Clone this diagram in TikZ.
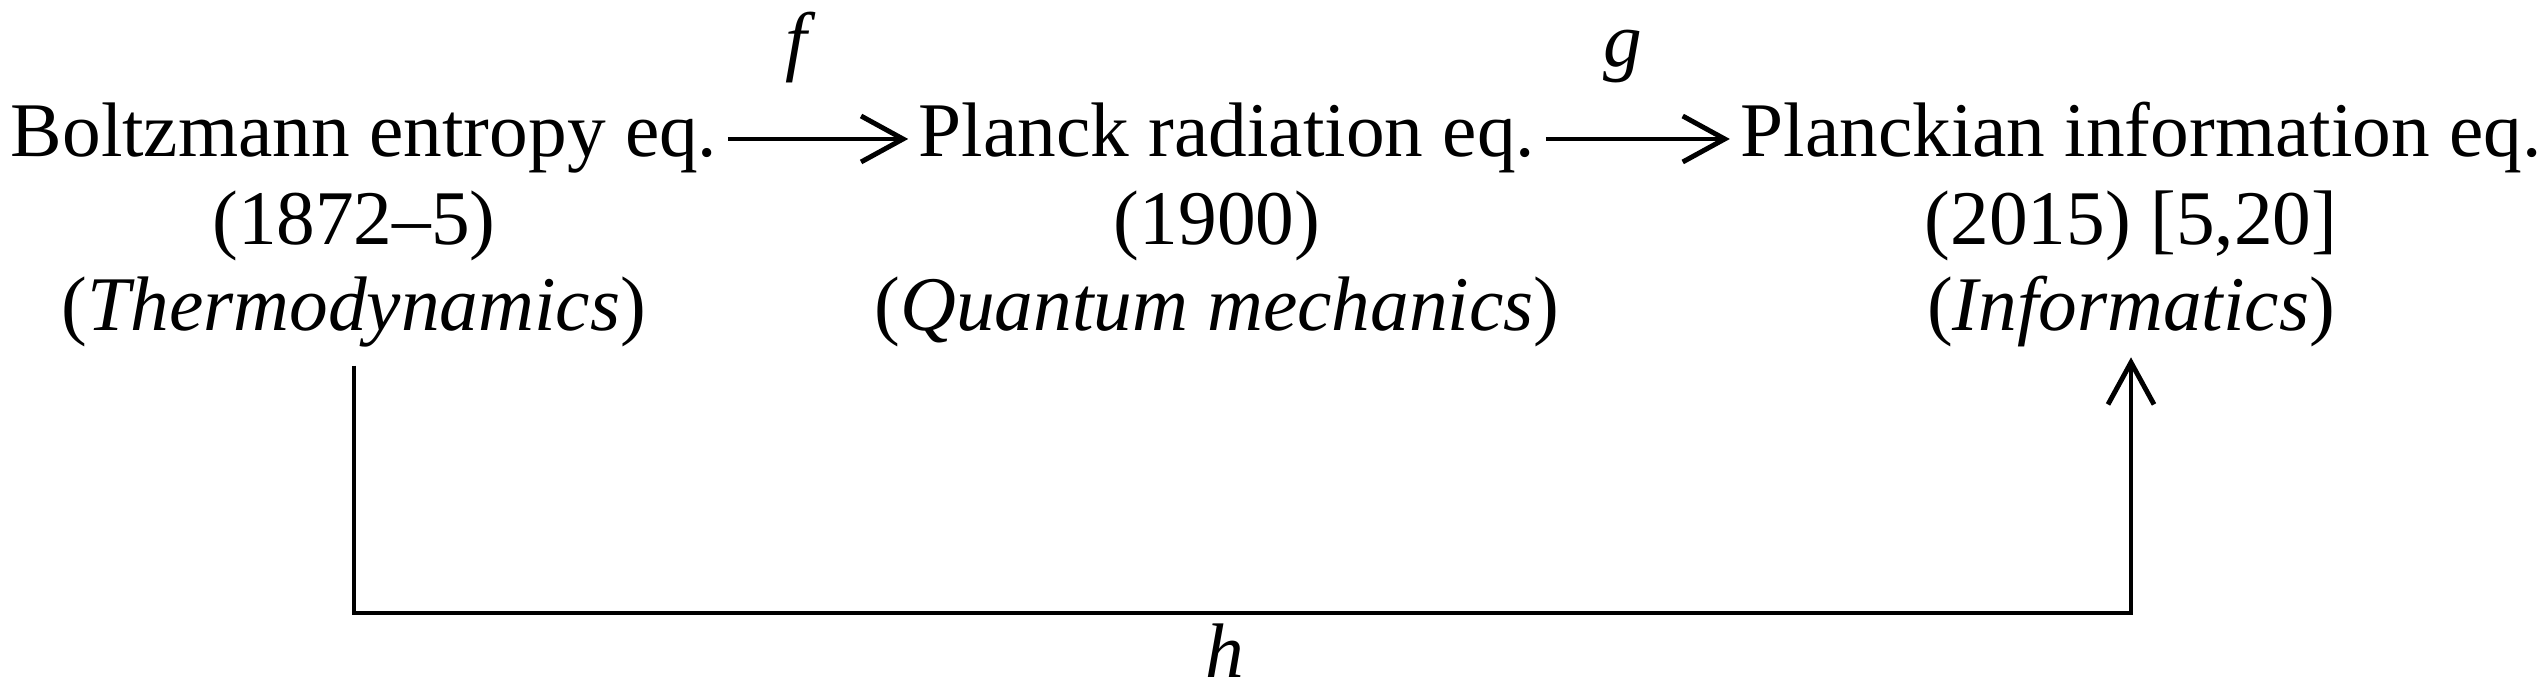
\documentclass[tikz,border=0pt]{standalone}
\usepackage{fontspec}
\setmainfont{Liberation Serif}
\usetikzlibrary{arrows.meta, positioning}

\begin{document}
\begin{tikzpicture}[
    eqn/.style={font=\fontsize{22pt}{24.5pt}\selectfont, inner sep=0.1cm, text height=0.53cm, text depth=0.17cm},
    info/.style={font=\fontsize{22pt}{24.5pt}\selectfont, inner sep=0.1cm, align=center},
    signal/.style={-{Straight Barb[length=4.2mm, width=4.6mm]}, line width=1.4pt},
    fnlabel/.style={font=\fontsize{22pt}{24.5pt}\selectfont\itshape, anchor=base, inner sep=0pt}
]
\useasboundingbox (0,0) rectangle (25.48,6.93);

% Equations
\node[eqn, anchor=base] (boltz) at (3.64,5.36) {Boltzmann entropy eq.};
\node[eqn, anchor=base] (planck) at (12.27,5.36) {Planck radiation eq.};
\node[eqn, anchor=base] (planckian) at (21.41,5.36) {Planckian information eq.};

% Years and fields
\node[info, below=-0.05cm of boltz, xshift=-0.1cm] (boltzinfo) {(1872--5)\\(\textit{Thermodynamics})};
\node[info, below=-0.05cm of planck, xshift=-0.1cm] (planckinfo) {(1900)\\(\textit{Quantum mechanics})};
\node[info, below=-0.05cm of planckian, xshift=-0.1cm] (planckianinfo) {(2015) [5,20]\\(\textit{Informatics})};

% Maps f and g
\draw[signal] (boltz) -- node[fnlabel, xshift=-0.22cm, yshift=0.72cm] {f} (planck);
\draw[signal] (planck) -- node[fnlabel, xshift=-0.15cm, yshift=0.72cm] {g} (planckian);

% Map h
\coordinate (hbase) at (0,0.80);
\draw[signal, shorten <=0.08cm] (boltzinfo.south) -- (boltzinfo.south |- hbase)
    -- node[fnlabel, pos=0.49, yshift=-0.65cm] {h} (planckianinfo.south |- hbase)
    -- (planckianinfo.south);

\end{tikzpicture}
\end{document}
